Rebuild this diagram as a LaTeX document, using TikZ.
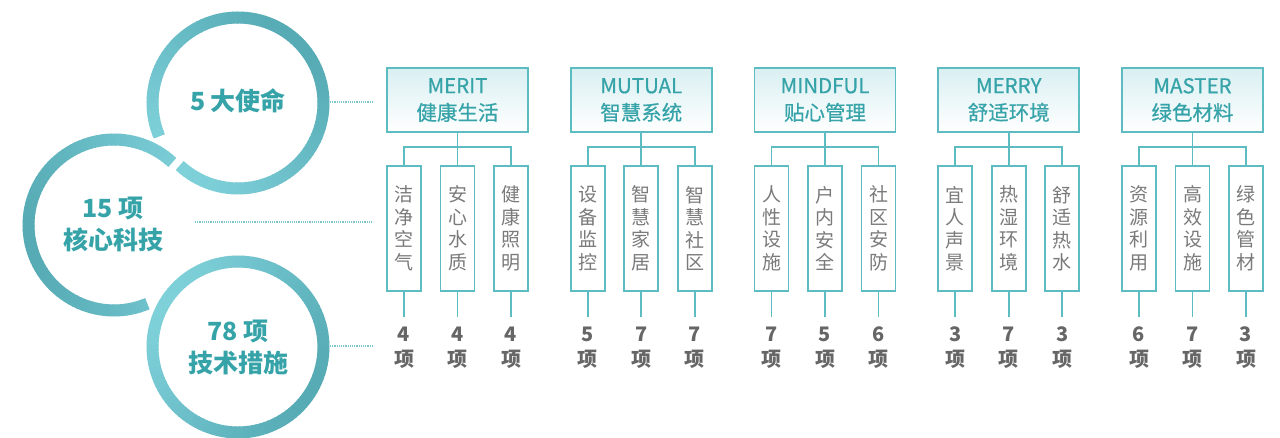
\documentclass[tikz,border=0pt]{standalone}
\usepackage{fontspec}
\setmainfont{Noto Sans CJK SC}
\newfontfamily\titlefont{Noto Sans CJK SC}[UprightFeatures={FakeBold=0.6}]
\definecolor{boxline}{HTML}{5CBCC2}
\definecolor{boxtop}{HTML}{D9EFF2}
\definecolor{titletext}{HTML}{36A3A9}
\definecolor{greytext}{HTML}{7A7A7A}
\definecolor{numtext}{HTML}{666666}
\definecolor{ringL}{HTML}{7ED0D9}
\definecolor{ringD}{HTML}{56ABB5}
\definecolor{dotcol}{HTML}{7CC6CC}
\newcommand\ringarc[5]{%
  \pgfmathtruncatemacro\rnseg{abs(#4-#3)/3}%
  \pgfmathsetmacro\rdseg{(#4-#3)/(\rnseg+1)}%
  \foreach \i in {0,...,\rnseg}{%
    \pgfmathsetmacro\ringa{#3+\i*\rdseg}%
    \pgfmathsetmacro\ringb{min(\ringa+\rdseg*1.2,#4)}%
    \pgfmathtruncatemacro\ringt{50+50*cos(\ringa+\rdseg/2-#5)}%
    \draw[line width=12pt, draw=ringL!\ringt!ringD] (#1,#2) ++(\ringa:85.5pt) arc[start angle=\ringa, end angle=\ringb, radius=85.5pt];
  }}
\newcommand\grp[9]{%
  \pgfmathsetmacro\gx{387+183.75*#1}%
  \node[tbox] (t#1) at (\gx+70.5,338) {#2\\#3};
  \node[sbox] (s#1a) at (\gx+17,209.5) {#4};
  \node[sbox] (s#1b) at (\gx+70.5,209.5) {#5};
  \node[sbox] (s#1c) at (\gx+124,209.5) {#6};
  \coordinate (j#1) at (\gx+70.5,291);
  \draw[conn] (t#1.south) -- (j#1);
  \draw[conn] (s#1a.north) |- (j#1) -| (s#1c.north);
  \draw[conn] (s#1b.north) -- (s#1b.north |- j#1);
  \coordinate (e#1a) at (\gx+17,121);
  \coordinate (e#1b) at (\gx+70.5,121);
  \coordinate (e#1c) at (\gx+124,121);
  \draw[conn] (s#1a.south) -- (e#1a);
  \draw[conn] (s#1b.south) -- (e#1b);
  \draw[conn] (s#1c.south) -- (e#1c);
  \node[cnt] (n#1a) at (\gx+17,90.5) {#7\\项};
  \node[cnt] (n#1b) at (\gx+70.5,90.5) {#8\\项};
  \node[cnt] (n#1c) at (\gx+124,90.5) {#9\\项};
}
\begin{document}
\begin{tikzpicture}[x=1pt,y=1pt,
  tbox/.style={draw=boxline, line width=1.8pt, top color=boxtop, bottom color=white, minimum width=141pt, minimum height=64pt, inner sep=0pt, align=center, font=\titlefont\fontsize{20.5}{27}\selectfont, text=titletext},
  sbox/.style={draw=boxline, line width=1.8pt, fill=white, minimum width=34pt, minimum height=125pt, inner sep=0pt, align=center, font=\fontsize{19}{22.5}\selectfont, text=greytext},
  cnt/.style={align=center, font=\fontsize{20}{25}\selectfont\bfseries, text=numtext, inner sep=0pt},
  ctext/.style={align=center, font=\fontsize{25}{32}\selectfont\bfseries, text=titletext, inner sep=0pt},
  conn/.style={draw=boxline, line width=1.8pt},
  dots/.style={draw=dotcol, line width=1.2pt, dash pattern=on 1.2pt off 1pt}]
\useasboundingbox (0,0) rectangle (1280,438);
% rings
\ringarc{238}{335}{227}{563}{225}
\draw[white, line width=20pt] (114,213) ++(47:85.5pt) arc[start angle=47, end angle=293, radius=85.5pt];
\ringarc{114}{213}{47}{293}{10}
\draw[white, line width=20pt] (238,91) circle[radius=85.5pt];
\ringarc{238}{91}{0}{360}{150}
% circle texts
\node[ctext] (c1) at (238,337) {5 大使命};
\node[ctext] (c2) at (113,214) {15 项\\核心科技};
\node[ctext] (c3) at (238,90.5) {78 项\\技术措施};
% dotted leaders
\coordinate (d1a) at (330,336); \coordinate (d1b) at (373,336);
\coordinate (d2a) at (195,216); \coordinate (d2b) at (373,216);
\coordinate (d3a) at (330,92);  \coordinate (d3b) at (373,92);
\draw[dots] (d1a) -- (d1b);
\draw[dots] (d2a) -- (d2b);
\draw[dots] (d3a) -- (d3b);
% groups
\grp{0}{MERIT}{健康生活}{洁\\净\\空\\气}{安\\心\\水\\质}{健\\康\\照\\明}{4}{4}{4}
\grp{1}{MUTUAL}{智慧系统}{设\\备\\监\\控}{智\\慧\\家\\居}{智\\慧\\社\\区}{5}{7}{7}
\grp{2}{MINDFUL}{贴心管理}{人\\性\\设\\施}{户\\内\\安\\全}{社\\区\\安\\防}{7}{5}{6}
\grp{3}{MERRY}{舒适环境}{宜\\人\\声\\景}{热\\湿\\环\\境}{舒\\适\\热\\水}{3}{7}{3}
\grp{4}{MASTER}{绿色材料}{资\\源\\利\\用}{高\\效\\设\\施}{绿\\色\\管\\材}{6}{7}{3}
\end{tikzpicture}
\end{document}
